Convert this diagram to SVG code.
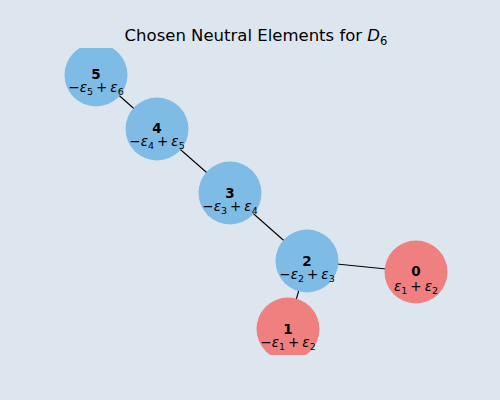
<svg xmlns="http://www.w3.org/2000/svg" width="500" height="400" viewBox="0 0 500 400">
<style>
.n{fill:#7ebce6}
.r{fill:#f08080}
.e{stroke:#000;stroke-width:1.1}
.id{font-family:"DejaVu Sans",sans-serif;font-size:13.5px;font-weight:bold;text-anchor:middle;fill:#000}
.lb{font-family:"DejaVu Sans",sans-serif;font-size:13.5px;text-anchor:middle;fill:#000}
.v{font-style:italic}
.s{font-size:9.5px}
</style>
<defs><clipPath id="ax"><rect x="0" y="48" width="500" height="307"/></clipPath></defs>
<rect width="500" height="400" fill="#dde6ef"/>
<text x="256" y="41" font-family="DejaVu Sans,sans-serif" font-size="16.5" text-anchor="middle">Chosen Neutral Elements for <tspan font-style="italic">D</tspan><tspan font-size="11.5" dy="4">6</tspan></text>
<g clip-path="url(#ax)">
<g id="edges">
<line class="e" x1="96" y1="75" x2="157" y2="129"/>
<line class="e" x1="157" y1="129" x2="230" y2="193"/>
<line class="e" x1="230" y1="193" x2="307" y2="261"/>
<line class="e" x1="307" y1="261" x2="416" y2="272"/>
<line class="e" x1="307" y1="261" x2="288" y2="329"/>
</g>
<g id="n5"><circle class="n" cx="96" cy="75" r="31.5"/><text class="id" x="96" y="79">5</text><text class="lb" x="96" y="92">−<tspan class="v">ε</tspan><tspan class="s" dy="3">5</tspan><tspan dy="-3" dx="3">+</tspan><tspan class="v" dx="3">ε</tspan><tspan class="s" dy="3">6</tspan></text></g>
<g id="n4"><circle class="n" cx="157" cy="129" r="31.5"/><text class="id" x="157" y="133">4</text><text class="lb" x="157" y="146">−<tspan class="v">ε</tspan><tspan class="s" dy="3">4</tspan><tspan dy="-3" dx="3">+</tspan><tspan class="v" dx="3">ε</tspan><tspan class="s" dy="3">5</tspan></text></g>
<g id="n3"><circle class="n" cx="230" cy="193" r="31.5"/><text class="id" x="230" y="198">3</text><text class="lb" x="230" y="211">−<tspan class="v">ε</tspan><tspan class="s" dy="3">3</tspan><tspan dy="-3" dx="3">+</tspan><tspan class="v" dx="3">ε</tspan><tspan class="s" dy="3">4</tspan></text></g>
<g id="n2"><circle class="n" cx="307" cy="261" r="31.5"/><text class="id" x="307" y="266">2</text><text class="lb" x="307" y="279">−<tspan class="v">ε</tspan><tspan class="s" dy="3">2</tspan><tspan dy="-3" dx="3">+</tspan><tspan class="v" dx="3">ε</tspan><tspan class="s" dy="3">3</tspan></text></g>
<g id="n0"><circle class="r" cx="416" cy="272" r="31.5"/><text class="id" x="416" y="276">0</text><text class="lb" x="416" y="290.5"><tspan class="v">ε</tspan><tspan class="s" dy="3">1</tspan><tspan dy="-3" dx="3">+</tspan><tspan class="v" dx="3">ε</tspan><tspan class="s" dy="3">2</tspan></text></g>
<g id="n1"><circle class="r" cx="288" cy="329" r="31.5"/><text class="id" x="288" y="334">1</text><text class="lb" x="288" y="347">−<tspan class="v">ε</tspan><tspan class="s" dy="3">1</tspan><tspan dy="-3" dx="3">+</tspan><tspan class="v" dx="3">ε</tspan><tspan class="s" dy="3">2</tspan></text></g>
</g>
</svg>
